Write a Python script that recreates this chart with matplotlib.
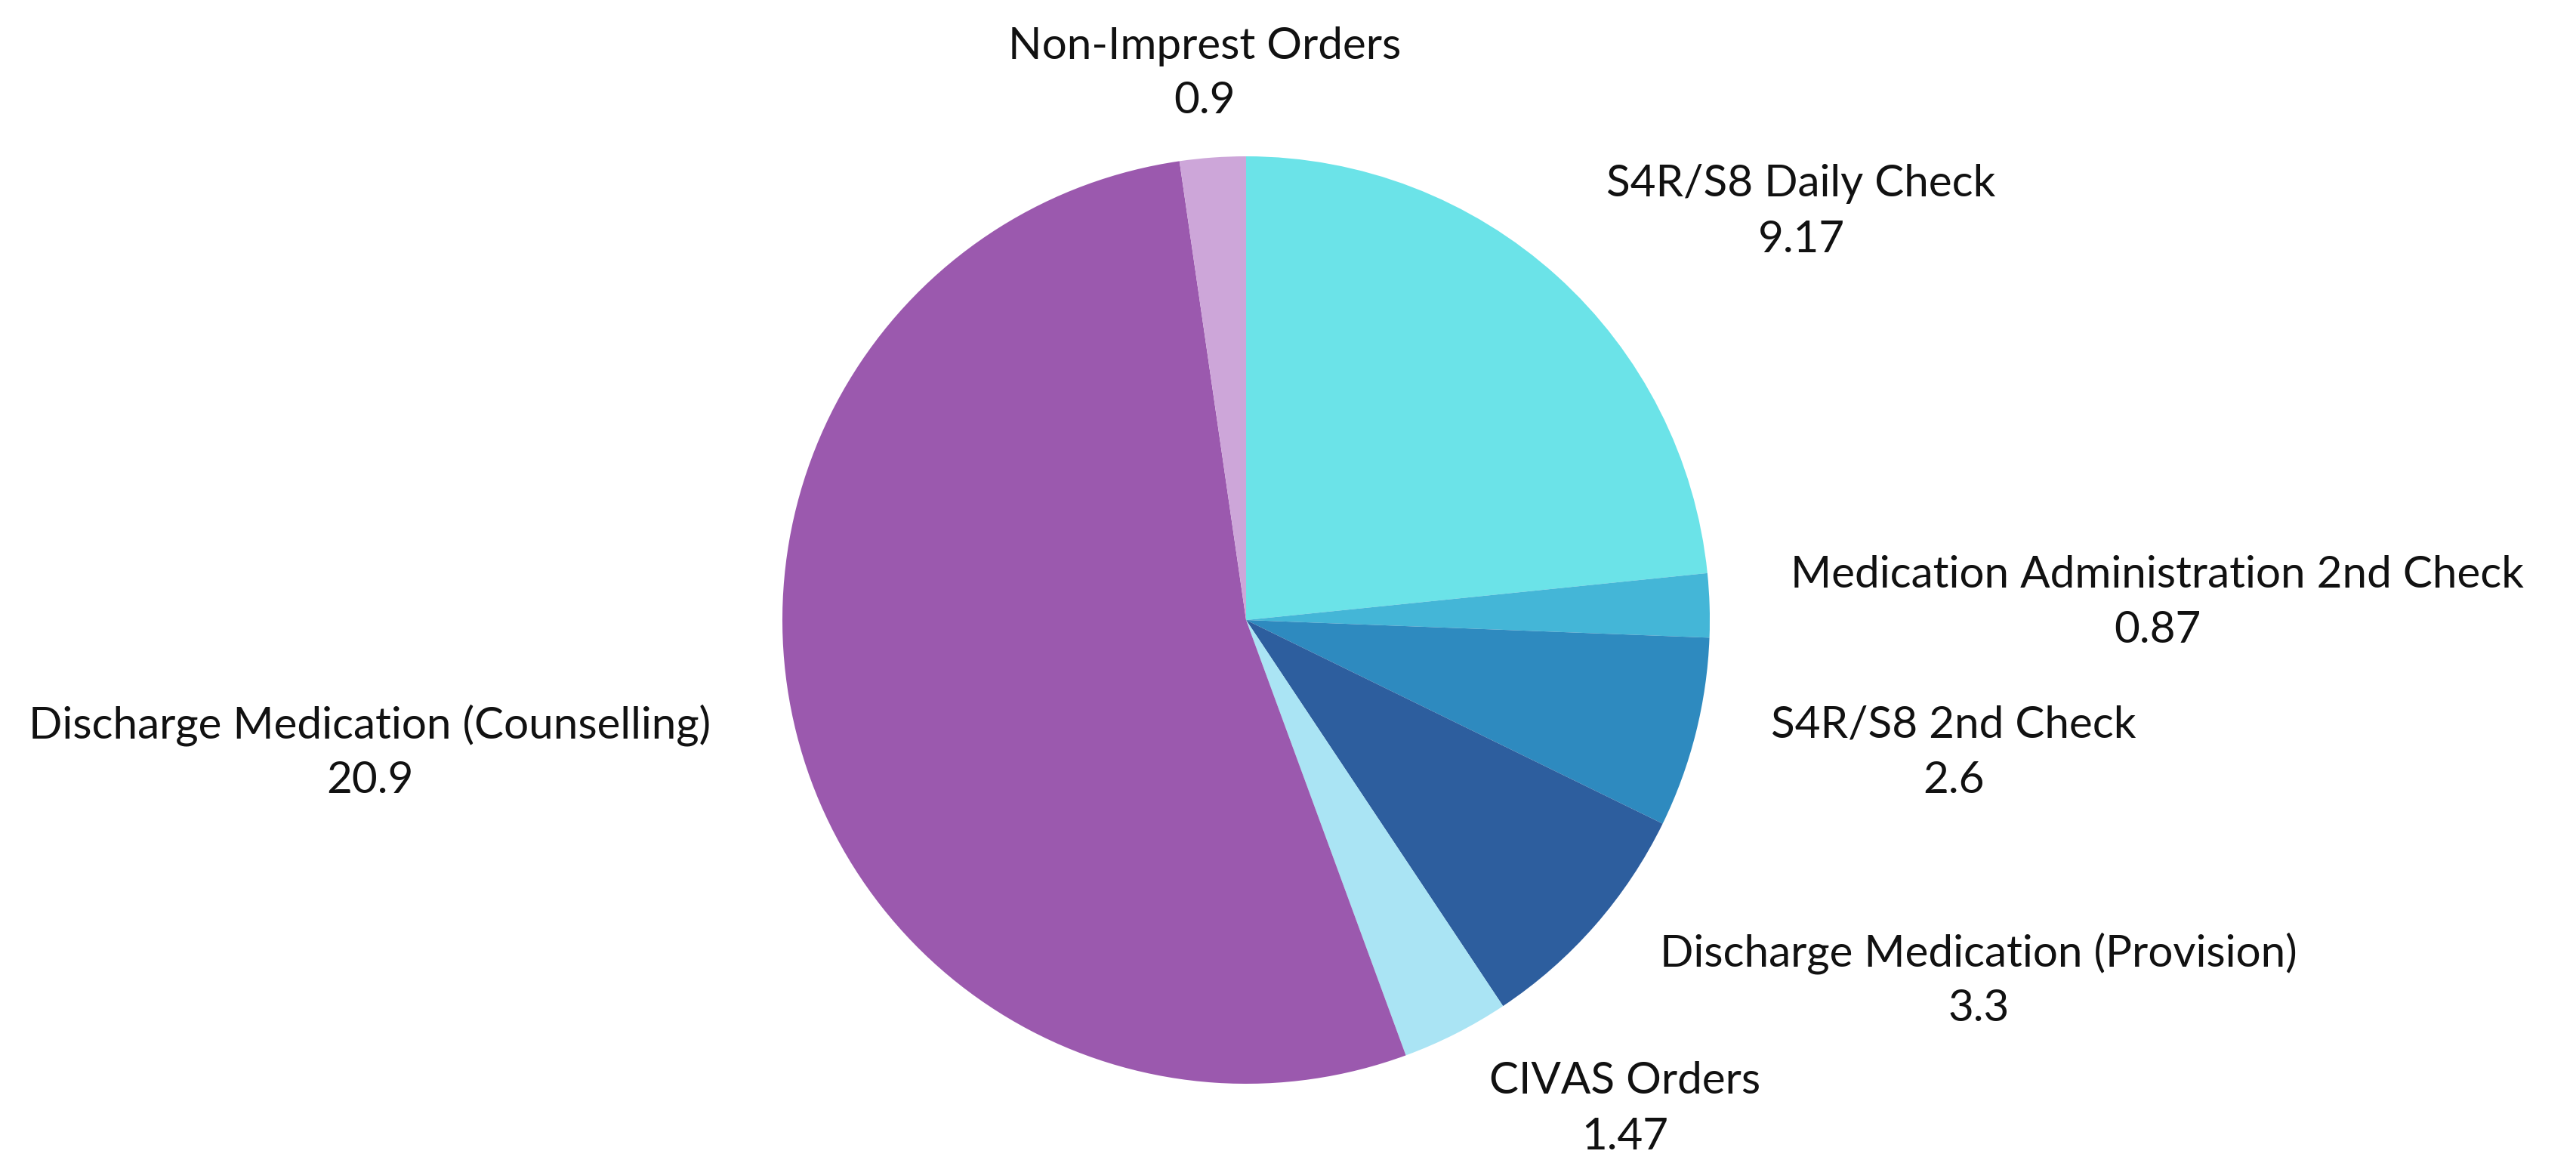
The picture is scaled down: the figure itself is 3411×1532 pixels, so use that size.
import matplotlib
matplotlib.use("Agg")
import matplotlib.pyplot as plt

categories = ["S4R/S8 Daily Check", "Medication Administration 2nd Check", "S4R/S8 2nd Check",
              "Discharge Medication (Provision)", "CIVAS Orders",
              "Discharge Medication (Counselling)", "Non-Imprest Orders"]
values = [9.17, 0.87, 2.6, 3.3, 1.47, 20.9, 0.9]
value_labels = ["9.17", "0.87", "2.6", "3.3", "1.47", "20.9", "0.9"]
colors = ["#6BE3E8", "#44B6D7", "#2E8ABF", "#2D5E9E", "#AAE4F4", "#9B59AE", "#CDA6D9"]

# label layout (pixel positions of label centre, name line)
label_pos = [(2385, 244), (2857, 762), (2587, 960), (2620, 1262), (2152, 1432), (490, 960), (1595, 61)]
line_gap = 73

W, H = 3412, 1532
fig = plt.figure(figsize=(W / 100, H / 100), dpi=100)
ax = fig.add_axes([0, 0, 1, 1])

ax.pie(values, colors=colors, startangle=90, counterclock=False,
       center=(1650, H - 821), radius=614, frame=True,
       wedgeprops=dict(linewidth=0))
ax.set_xlim(0, W)
ax.set_ylim(0, H)
ax.set_aspect("equal")
ax.axis("off")

font = dict(family=["Lato", "DejaVu Sans"], fontsize=42, color="#111111", ha="center", va="center")
for name, val, (x, y) in zip(categories, value_labels, label_pos):
    ax.text(x, H - y, name, **font)
    ax.text(x, H - y - line_gap, val, **font)

fig.savefig("out.png", dpi=100, facecolor="white")
